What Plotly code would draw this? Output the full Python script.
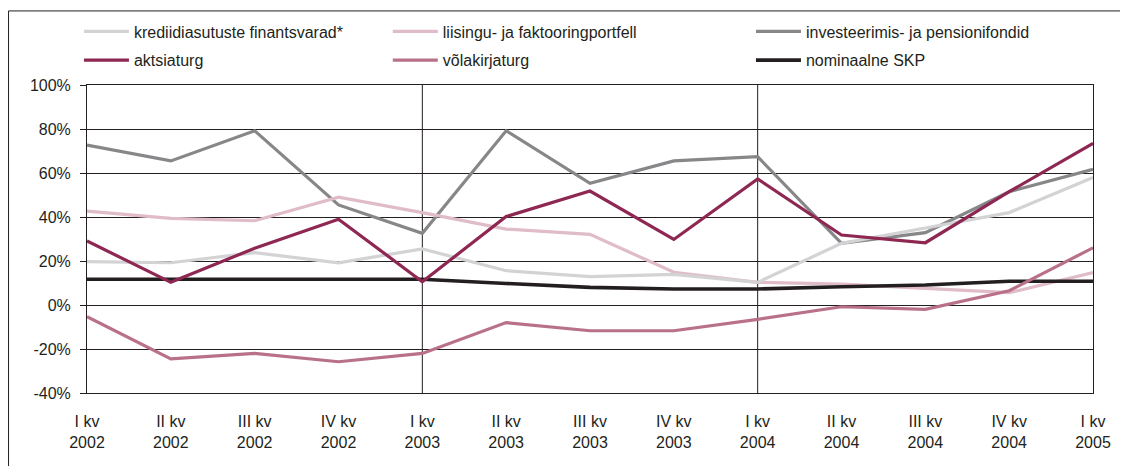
import plotly.graph_objects as go

quarters = ["I kv<br>2002", "II kv<br>2002", "III kv<br>2002", "IV kv<br>2002",
            "I kv<br>2003", "II kv<br>2003", "III kv<br>2003", "IV kv<br>2003",
            "I kv<br>2004", "II kv<br>2004", "III kv<br>2004", "IV kv<br>2004",
            "I kv<br>2005"]

krediidiasutuste = [19.7, 19.2, 23.8, 19.2, 25.5, 15.6, 12.9, 13.9, 10.3, 28.0, 35.0, 42.0, 58.0]
liisingu = [42.7, 39.4, 38.3, 49.0, 42.0, 34.5, 32.1, 14.9, 10.3, 9.5, 7.6, 5.6, 14.7]
investeerimis = [72.7, 65.5, 79.2, 45.5, 32.6, 79.2, 55.3, 65.5, 67.4, 28.0, 32.9, 51.5, 61.7]
aktsiaturg = [29.1, 10.3, 25.8, 39.0, 10.6, 40.2, 51.8, 29.8, 57.3, 31.8, 28.3, 51.5, 73.5]
volakirjaturg = [-5.3, -24.5, -22.0, -25.8, -22.0, -8.0, -11.7, -11.7, -6.5, -0.8, -2.0, 6.5, 26.0]
skp = [11.7, 11.7, 11.7, 11.7, 11.7, 9.8, 8.0, 7.3, 7.3, 8.3, 9.1, 10.8, 10.8]

y_tickvals = [-40, -20, 0, 20, 40, 60, 80, 100]
y_ticktext = ["-40%", "-20%", "0%", "20%", "40%", "60%", "80%", "100%"]

series = [
    ("krediidiasutuste finantsvarad*", krediidiasutuste, "#d3d3d5", 3.2, "legend"),
    ("aktsiaturg", aktsiaturg, "#8e2752", 3.2, "legend"),
    ("liisingu- ja faktooringportfell", liisingu, "#dfbcc7", 3.2, "legend2"),
    ("võlakirjaturg", volakirjaturg, "#b9718a", 3.2, "legend2"),
    ("investeerimis- ja pensionifondid", investeerimis, "#87878a", 3.2, "legend3"),
    ("nominaalne SKP", skp, "#231f20", 3.6, "legend3"),
]

ink = "#231f20"
fig = go.Figure()
# draw order: back to front
order = [4, 2, 0, 5, 3, 1]
for i in order:
    name, vals, color, w, lg = series[i]
    fig.add_trace(go.Scatter(x=quarters, y=vals, mode="lines", name=name,
                             line=dict(color=color, width=w), legend=lg,
                             legendrank=i, legendgroup="g%d" % i))

font = dict(family="Liberation Sans, Arial, sans-serif", size=16, color=ink)
legend_common = dict(orientation="v", yanchor="top", xanchor="left",
                     bgcolor="rgba(0,0,0,0)", font=font, itemwidth=45,
                     tracegroupgap=5, traceorder="grouped")
# page body has an 8px margin, so the figure is sized/offset to compensate
fig.update_layout(
    width=1120, height=458,
    margin=dict(l=79, r=35, t=77, b=73, autoexpand=False),
    paper_bgcolor="white", plot_bgcolor="white",
    font=font,
    legend=dict(x=-0.008, y=1.229, **legend_common),
    legend2=dict(x=0.299, y=1.229, **legend_common),
    legend3=dict(x=0.660, y=1.229, **legend_common),
    xaxis=dict(type="category", range=[0, 12], showgrid=False, showline=True,
               linecolor=ink, linewidth=1, mirror=True, ticks="",
               ticklabelstandoff=14, tickfont=font, zeroline=False),
    yaxis=dict(range=[-40, 100], tickmode="array", tickvals=y_tickvals,
               ticktext=y_ticktext, showgrid=True,
               gridcolor=ink, gridwidth=1, showline=True, linecolor=ink,
               linewidth=1, mirror=True, ticks="outside", ticklen=6,
               tickcolor=ink, zeroline=False, tickfont=font,
               ticklabelstandoff=6),
)

# vertical year separators
for q in (quarters[4], quarters[8]):
    fig.add_shape(type="line", xref="x", yref="paper", x0=q, x1=q, y0=0, y1=1,
                  line=dict(color=ink, width=1), layer="below")

# outer frame (left and top edges)
fig.add_shape(type="path", xref="paper", yref="paper",
              path="M -0.0780,-0.3 L -0.0780,1.2405 L 1.04,1.2405",
              line=dict(color=ink, width=1))

fig.write_html("out.html")
